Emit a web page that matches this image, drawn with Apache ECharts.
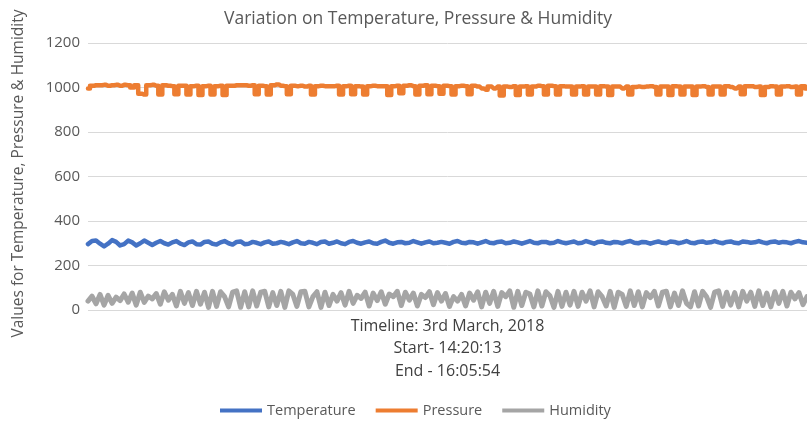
<!DOCTYPE html>
<html>
<head>
<meta charset="utf-8">
<script src="https://cdn.jsdelivr.net/npm/echarts@6/dist/echarts.min.js"></script>
<style>
  html, body { margin: 0; padding: 0; background: #fff; }
  #chart { width: 807px; height: 421px; }
</style>
</head>
<body>
<div id="chart"></div>
<script>
// readings between 14:20:13 and 16:05:54
const temperature = [
  296,310,312,298,286,298,314,306,290,296,312,304,290,300,312,302,292,302,310,300,294,304,310,298,292,304,308,296,294,306,
  308,298,294,304,310,300,294,306,308,296,298,306,302,296,304,308,298,300,306,302,296,304,310,300,298,306,302,296,306,308,
  298,302,308,300,296,306,310,302,298,304,308,300,298,306,312,302,298,304,306,300,302,310,304,298,304,308,300,302,306,302,
  298,306,310,302,300,306,304,298,304,310,302,300,306,308,300,302,308,304,298,304,310,302,300,306,306,300,302,310,304,300,
  304,308,300,302,310,304,298,306,308,302,300,306,304,300,306,310,302,300,306,304,298,304,308,302,300,308,306,300,304,310,
  302,300,306,308,302,304,310,304,300,306,308,302,300,308,306,302,304,310,304,300,306,308,302,306,304,300,306,310,304,302
]
const pressure = [
  996,1008,1010,1010,1012,1008,1010,1012,1008,1012,1010,1000,1010,972,968,1010,1012,1008,968,1010,1008,1006,970,1008,1008,968,1006,1008,966,1006,
  1008,968,1006,1008,966,1008,1008,1010,1010,1010,1008,1010,970,1008,1006,968,1010,1014,1008,1006,970,1008,1006,1008,1004,1008,968,1006,1008,1006,
  1006,1006,1008,968,1006,1008,970,1006,1004,968,1006,1008,1006,1006,1006,966,1006,1008,974,1008,1010,1006,968,1008,1010,970,1008,1006,972,1008,
  1006,968,1006,1008,1006,970,1008,1004,996,990,1004,996,1004,964,1004,1002,1006,966,1004,1006,968,1004,1008,1006,968,1008,1006,968,1006,1004,
  1004,968,1004,1006,968,1004,1004,968,1006,1004,966,1004,1004,996,1004,968,1002,1004,1002,1004,1006,1002,968,1004,1004,966,1006,1004,968,1004,
  1004,966,1004,1006,1002,968,1004,1004,968,1006,1002,996,1004,970,1006,1006,1002,1004,966,1002,1006,1004,968,1004,1006,1002,1004,968,1006,996
]
const humidity = [
  40,62,28,70,22,66,30,58,42,72,35,76,22,80,34,62,50,74,26,82,44,70,18,84,30,78,20,84,26,80,
  12,84,16,82,60,14,80,86,12,82,14,86,18,80,84,14,78,20,84,12,86,70,16,82,84,14,60,82,12,80,
  20,70,40,78,22,84,30,66,52,80,18,76,42,82,26,72,60,84,20,80,44,76,18,70,56,82,24,78,40,74,
  16,60,40,70,18,76,44,82,14,80,30,84,16,78,60,86,12,84,20,80,72,14,86,18,82,64,12,84,16,80,
  22,84,16,80,40,86,14,82,60,18,84,12,80,70,16,86,20,82,14,78,56,84,18,80,84,14,76,20,86,30,
  14,82,18,84,60,12,80,86,16,80,22,78,14,84,40,80,16,86,20,76,14,82,30,84,18,80,50,78,24,60
]
const seriesNames = ['Temperature', 'Pressure', 'Humidity']
const colors = ['#4472c4', '#ed7d31', '#a5a5a5']
const yTicks = [0, 200, 400, 600, 800, 1000, 1200]
const categories = temperature.map((v, i) => i + 1)

const chart = echarts.init(document.getElementById('chart'))
const font = 'Open Sans, Noto Sans, sans-serif'

const option = {
  animation: false,
  textStyle: { fontFamily: font },
  title: {
    text: 'Variation on Temperature, Pressure & Humidity',
    left: 413,
    textAlign: 'center',
    top: 5,
    textStyle: { fontSize: 17.5, fontWeight: 'normal', color: '#595959', fontFamily: font }
  },
  legend: {
    data: seriesNames,
    bottom: -2,
    left: 215,
    icon: 'rect',
    itemWidth: 42,
    itemHeight: 4,
    itemGap: 20,
    textStyle: { fontSize: 14.5, color: '#595959', fontFamily: font }
  },
  grid: { left: 88, right: 0, top: 43, bottom: 111 },
  xAxis: {
    type: 'category',
    data: categories,
    boundaryGap: false,
    axisLine: { show: false },
    axisTick: { show: false },
    axisLabel: { show: false },
    name: 'Timeline: 3rd March, 2018\nStart- 14:20:13\nEnd - 16:05:54',
    nameLocation: 'middle',
    nameGap: 5,
    nameTextStyle: {
      fontSize: 16, color: '#404040', lineHeight: 22.5, verticalAlign: 'top',
      padding: [0, 0, 0, 0], fontFamily: font
    }
  },
  yAxis: {
    type: 'value',
    min: yTicks[0],
    max: yTicks[yTicks.length - 1],
    interval: 200,
    axisLine: { show: false },
    axisTick: { show: false },
    axisLabel: { fontSize: 15, color: '#595959', margin: 8, fontFamily: font, formatter: v => String(v) },
    splitLine: { lineStyle: { color: '#d9d9d9', width: 1 } },
    name: 'Values for Temperature, Pressure & Humidity',
    nameLocation: 'middle',
    nameGap: 61,
    nameTextStyle: { fontSize: 15.5, color: '#595959', fontFamily: font, padding: [0, 0, 0, 6] }
  },
  series: [temperature, pressure, humidity].map((d, i) => ({
    name: seriesNames[i],
    type: 'line',
    data: d,
    symbol: 'none',
    step: i === 1 ? 'middle' : false,
    color: colors[i],
    lineStyle: { width: i === 2 ? 5 : 4.5, color: colors[i], join: 'round', cap: 'round' }
  }))
}
chart.setOption(option)
</script>
</body>
</html>
